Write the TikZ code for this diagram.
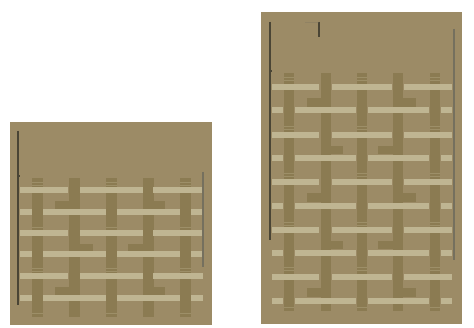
\documentclass[tikz,border=0pt]{standalone}
\begin{document}
\begin{tikzpicture}[x=1pt,y=-1pt,
  panel/.style={fill=bgc,draw=none},
  warp/.style={fill=warpc,draw=none},
  weft/.style={fill=weftc,draw=none},
  seam/.style={draw=seamc,line width=0.6pt},
  rod/.style={draw=rodc,line width=1.3pt}]
\definecolor{bgc}{HTML}{9C8B66}
\definecolor{warpc}{HTML}{8B7B52}
\definecolor{weftc}{HTML}{BFB592}
\definecolor{seamc}{HTML}{9D8F68}
\definecolor{rodc}{HTML}{4A4535}
\definecolor{rodlight}{HTML}{75705E}
\useasboundingbox (0,0) rectangle (474,328);
\fill[white] (0,0) rectangle (474,328);
% ---------- left panel ----------
\fill[panel] (10,122) rectangle (212,325);
\foreach \cx in {37,74,111,148,185}
  \fill[warp] (\cx-5.5,178) rectangle (\cx+5.5,317);
\foreach \cx in {37,111,185}
  \foreach \sy in {182,185,227,230,268,271,313}
    \draw[seam] (\cx-5.5,\sy) -- (\cx+5.5,\sy);
\foreach \ry in {190,233,276}{
  \foreach \a/\b in {20/68,80/143,153/203}
    \fill[weft] (\a,\ry-3) rectangle (\b,\ry+3);}
\foreach \ry in {212,254,298}{
  \foreach \a/\b in {20/32,43/106,117/180,191/203}
    \fill[weft] (\a,\ry-3) rectangle (\b,\ry+3);}
\foreach \by in {201,287}{
  \fill[warp] (55,\by) rectangle (79,\by+8);
  \fill[warp] (143,\by) rectangle (165,\by+8);}
\fill[warp] (69,244) rectangle (93,251);
\fill[warp] (128,244) rectangle (153,251);
\draw[rod] (18,131) -- (18,305);
\fill[rodc] (17,175) rectangle (19.5,177.5);
\draw[rod,draw=rodlight] (203,172) -- (203,267);
% ---------- right panel ----------
\fill[panel] (261,12) rectangle (462,324);
\foreach \cx in {289,326,362,398,435}
  \fill[warp] (\cx-5,73) rectangle (\cx+5,311);
\foreach \cx in {289,362,435}
  \foreach \sy in {77,80,126,129,173,176,222,225,267,270,307}
    \draw[seam] (\cx-5,\sy) -- (\cx+5,\sy);
\foreach \ry in {87,135,182,230,277}{
  \foreach \a/\b in {272/319,332/392,404/452}
    \fill[weft] (\a,\ry-2.8) rectangle (\b,\ry+2.8);}
\foreach \ry in {110,158,206,253,301}{
  \foreach \a/\b in {272/283,295/356,368/429,441/452}
    \fill[weft] (\a,\ry-2.8) rectangle (\b,\ry+2.8);}
\foreach \by in {98,193,288}{
  \fill[warp] (307,\by) rectangle (330,\by+9);
  \fill[warp] (394,\by) rectangle (416,\by+9);}
\foreach \by in {146,241}{
  \fill[warp] (321,\by) rectangle (343,\by+8.5);
  \fill[warp] (378,\by) rectangle (403,\by+8.5);}
\draw[rod] (270,22) -- (270,240);
\fill[rodc] (269,70) rectangle (271.5,72.5);
\draw[rod] (319,22) -- (319,37);
\draw[draw=rodlight,line width=0.3pt,opacity=0.3] (305,22) -- (319,22);
\draw[rod,draw=rodlight] (454,29) -- (454,260);
\end{tikzpicture}
\end{document}
